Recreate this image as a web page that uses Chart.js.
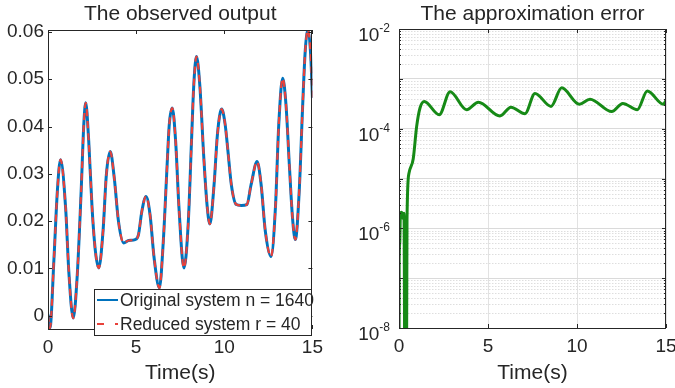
<!DOCTYPE html>
<html>
<head>
<meta charset="utf-8">
<script src="https://cdn.jsdelivr.net/npm/chart.js@4/dist/chart.umd.min.js"></script>
<style>
  html, body { margin: 0; padding: 0; background: #fff; overflow: hidden; }
  #wrap { position: relative; width: 675px; height: 388px; overflow: hidden; }
  #obs { position: absolute; left: 0; top: 0; }
  #err { position: absolute; left: 335px; top: 0; }
</style>
</head>
<body>
<div id="wrap">
  <canvas id="obs" width="330" height="388"></canvas>
  <canvas id="err" width="350" height="388"></canvas>
</div>
<script>
Chart.defaults.font.family = '"Liberation Sans", Arial, Helvetica, sans-serif';

// left panel: the observed output
const obsTime = [0, 0.11, 0.34, 0.53, 0.71, 1.0, 1.18, 1.43, 1.65, 1.88, 2.03, 2.14, 2.31, 2.5, 2.69,
  2.88, 3.12, 3.31, 3.53, 3.76, 4.0, 4.29, 4.57, 4.94, 5.13, 5.32, 5.56, 5.79, 6.02, 6.32,
  6.54, 6.73, 6.88, 7.05, 7.24, 7.43, 7.71, 7.95, 8.14, 8.27, 8.42, 8.61, 8.84, 9.02, 9.18,
  9.42, 9.61, 9.85, 10.05, 10.21, 10.4, 10.68, 10.96, 11.28, 11.52, 11.86, 12.09, 12.33, 12.65, 12.9,
  13.09, 13.31, 13.5, 13.69, 13.87, 14.03, 14.25, 14.44, 14.59, 14.74, 14.91, 15];
const originalOut = [0.0002, -0.0026, 0.0122, 0.0263, 0.033, 0.0228, 0.0094, -0.0005, 0.008, 0.0263, 0.0404, 0.045, 0.0369, 0.0228, 0.0136,
  0.0101, 0.0178, 0.0298, 0.0347, 0.0291, 0.0199, 0.0154, 0.0159, 0.0161, 0.0171, 0.022, 0.0252, 0.0213, 0.0122, 0.0059,
  0.0157, 0.0298, 0.0404, 0.0439, 0.0369, 0.0228, 0.0101, 0.0192, 0.0369, 0.0488, 0.0548, 0.0488, 0.0333, 0.0235, 0.0194,
  0.0277, 0.0383, 0.0437, 0.0404, 0.0347, 0.0277, 0.0235, 0.0233, 0.0235, 0.0277, 0.0326, 0.0277, 0.0178, 0.0125, 0.0228,
  0.0404, 0.0502, 0.0446, 0.0319, 0.0207, 0.0161, 0.0263, 0.0439, 0.0559, 0.0605, 0.0545, 0.046];
// the reduced model sits right on top of the original in the picture
const reducedOut = originalOut.slice();
const obsTicks = [0, 0.01, 0.02, 0.03, 0.04, 0.05, 0.06];
const obsTickLabels = ['0', '0.01', '0.02', '0.03', '0.04', '0.05', '0.06'];
const timeTicks = [0, 5, 10, 15];
const seriesNames = ['Original system n = 1640', 'Reduced system r = 40'];

// right panel: the approximation error
const errTime = [0, 0.01, 0.04, 0.08, 0.15, 0.21, 0.28, 0.34, 0.41, 0.45, 0.56, 0.8, 0.99, 1.18, 1.42,
  2.26, 2.87, 3.8, 4.46, 5.67, 6.29, 7.08, 7.64, 8.54, 9.14, 10.13, 10.73, 11.95, 12.57, 13.39, 13.95, 14.85, 15];
const errValue = [1e-10, 2.3e-7, 5e-7, 2e-6, 2.1e-6, 1.6e-6, 2e-6, 1e-10, 1e-10, 1.5e-6, 1.27e-5, 2.5e-5, 1.1e-4, 2.6e-4, 3.5e-4,
  1.9e-4, 5.5e-4, 2.4e-4, 3.4e-4, 1.8e-4, 2.7e-4, 2.0e-4, 5.1e-4, 2.8e-4, 6.6e-4, 3.1e-4, 3.9e-4, 2.2e-4, 3.2e-4, 2.4e-4, 5.7e-4, 3.1e-4, 3.7e-4];
const errDecades = [-8, -7, -6, -5, -4, -3, -2];
const errLabelExps = [-8, -6, -4, -2];

const ink = '#262626';
const blue = '#0072bd';
const red = '#e8413a';
const green = '#168a16';
const face = '"Liberation Sans", Arial, Helvetica, sans-serif';

function pts(xs, ys) {
  return xs.map((x, i) => ({ x: x, y: ys[i] }));
}

// matlab style box with inward ticks on all four sides
const boxTicks = {
  id: 'boxTicks',
  afterDatasetsDraw(chart) {
    const { ctx, chartArea: a, scales: { x, y } } = chart;
    ctx.save();
    ctx.strokeStyle = ink;
    ctx.lineWidth = 1;
    ctx.beginPath();
    x.ticks.forEach(t => {
      const px = Math.round(x.getPixelForValue(t.value)) + 0.5;
      ctx.moveTo(px, a.top); ctx.lineTo(px, a.top + 4);
      ctx.moveTo(px, a.bottom); ctx.lineTo(px, a.bottom - 4);
    });
    y.ticks.forEach(t => {
      const py = Math.round(y.getPixelForValue(t.value)) + 0.5;
      const len = t.major ? 4 : 2;
      ctx.moveTo(a.left, py); ctx.lineTo(a.left + len, py);
      ctx.moveTo(a.right, py); ctx.lineTo(a.right - len, py);
    });
    ctx.stroke();
    ctx.strokeRect(Math.round(a.left) + 0.5, Math.round(a.top) + 0.5,
      Math.round(a.right - a.left) - 1, Math.round(a.bottom - a.top));
    ctx.restore();
  }
};

const obsLegend = {
  id: 'obsLegend',
  afterDraw(chart) {
    const { ctx, chartArea: a } = chart;
    const left = 94, top = 289, right = Math.round(a.right), bottom = 336;
    ctx.save();
    ctx.fillStyle = '#fff';
    ctx.fillRect(left, top, right - left, bottom - top);
    ctx.strokeStyle = ink;
    ctx.lineWidth = 1;
    ctx.strokeRect(left + 0.5, top + 0.5, right - left - 1, bottom - top - 1);
    const rows = [300, 324];
    chart.data.datasets.forEach((ds, i) => {
      const yy = rows[i];
      ctx.strokeStyle = ds.borderColor;
      ctx.lineWidth = 2;
      ctx.setLineDash(ds.borderDash ? [7, 11] : []);
      ctx.beginPath();
      ctx.moveTo(97, yy); ctx.lineTo(118, yy);
      ctx.stroke();
      ctx.setLineDash([]);
      ctx.fillStyle = ink;
      ctx.font = '17.5px ' + face;
      ctx.textBaseline = 'middle';
      ctx.textAlign = 'left';
      ctx.fillText(ds.label, 120, yy + 1);
    });
    ctx.restore();
  }
};

const minorGrid = {
  id: 'minorGrid',
  beforeDatasetsDraw(chart) {
    const { ctx, chartArea: a, scales: { y } } = chart;
    ctx.save();
    ctx.strokeStyle = '#dedede';
    ctx.lineWidth = 1;
    ctx.setLineDash([1.5, 1.5]);
    ctx.beginPath();
    y.ticks.forEach(t => {
      if (t.major) return;
      const py = Math.round(y.getPixelForValue(t.value)) + 0.5;
      ctx.moveTo(a.left, py); ctx.lineTo(a.right, py);
    });
    ctx.stroke();
    ctx.restore();
  }
};

// 10 with a raised exponent, like matlab's log axis labels
const powLabels = {
  id: 'powLabels',
  afterDraw(chart) {
    const { ctx, scales: { y } } = chart;
    ctx.save();
    ctx.fillStyle = ink;
    ctx.textBaseline = 'alphabetic';
    errLabelExps.forEach(e => {
      const py = y.getPixelForValue(Math.pow(10, e));
      const sup = String(e);
      ctx.font = '12px ' + face;
      const w = ctx.measureText(sup).width;
      const ex = y.right - 9 - w;
      ctx.textAlign = 'left';
      ctx.fillText(sup, ex, py + 3);
      ctx.font = '19px ' + face;
      ctx.textAlign = 'right';
      ctx.fillText('10', ex, py + 12);
    });
    ctx.restore();
  }
};

const timeAxis = (h) => ({
  type: 'linear',
  min: 0,
  max: 15,
  afterBuildTicks: s => { s.ticks = timeTicks.map(v => ({ value: v, major: true })); },
  afterFit: s => { s.height = h; },
  border: { display: false },
  ticks: { padding: 7, color: ink, font: { size: 19 }, maxRotation: 0, autoSkip: false },
  title: { display: true, text: 'Time(s)', color: ink, font: { size: 21 }, padding: { top: 0, bottom: 2 } }
});

new Chart(document.getElementById('obs'), {
  type: 'line',
  data: {
    datasets: [
      { label: seriesNames[0], data: pts(obsTime, originalOut), borderColor: blue, borderWidth: 3,
        pointRadius: 0, cubicInterpolationMode: 'monotone', fill: false, order: 2 },
      { label: seriesNames[1], data: pts(obsTime, reducedOut), borderColor: red, borderWidth: 2.2,
        borderDash: [7, 5], pointRadius: 0, cubicInterpolationMode: 'monotone', fill: false, order: 1 }
    ]
  },
  options: {
    responsive: false,
    animation: false,
    layout: { padding: { left: 0, right: 15, top: 0, bottom: 0 } },
    scales: {
      x: Object.assign(timeAxis(59), { grid: { display: false, drawTicks: false } }),
      y: {
        min: -0.0028,
        max: 0.0604,
        afterBuildTicks: s => { s.ticks = obsTicks.map(v => ({ value: v, major: true })); },
        afterFit: s => { s.width = 48; },
        grid: { display: false, drawTicks: false },
        border: { display: false },
        ticks: { padding: 4, color: ink, font: { size: 19 }, autoSkip: false, callback: (v, i) => obsTickLabels[i] }
      }
    },
    plugins: {
      legend: { display: false },
      tooltip: { enabled: false },
      title: { display: true, fullSize: false, text: 'The observed output', color: ink,
        font: { size: 21, weight: 'normal' }, padding: { top: 2, bottom: 2.8 } }
    }
  },
  plugins: [boxTicks, obsLegend]
});

new Chart(document.getElementById('err'), {
  type: 'line',
  data: {
    datasets: [
      { label: 'error', data: pts(errTime, errValue), borderColor: green, borderWidth: 3,
        pointRadius: 0, cubicInterpolationMode: 'monotone', fill: false }
    ]
  },
  options: {
    responsive: false,
    animation: false,
    layout: { padding: { left: 0, right: 19, top: 0, bottom: 0 } },
    scales: {
      x: Object.assign(timeAxis(60), { grid: { color: '#e2e2e2', drawTicks: false } }),
      y: {
        type: 'logarithmic',
        min: 1e-8,
        max: 1e-2,
        afterBuildTicks: s => {
          const list = [];
          errDecades.forEach((e, i) => {
            list.push({ value: Math.pow(10, e), major: true });
            if (i < errDecades.length - 1) {
              for (let m = 2; m <= 9; m++) list.push({ value: m * Math.pow(10, e), major: false });
            }
          });
          s.ticks = list;
        },
        afterFit: s => { s.width = 64; },
        grid: {
          drawTicks: false,
          color: c => (c.tick && c.tick.major ? '#dadada' : 'rgba(0,0,0,0)')
        },
        border: { display: false },
        ticks: { display: false, autoSkip: false }
      }
    },
    plugins: {
      legend: { display: false },
      tooltip: { enabled: false },
      title: { display: true, fullSize: false, text: 'The approximation error', color: ink,
        font: { size: 21, weight: 'normal' }, padding: { top: 2, bottom: 1.8 } }
    }
  },
  plugins: [minorGrid, boxTicks, powLabels]
});
</script>
</body>
</html>
